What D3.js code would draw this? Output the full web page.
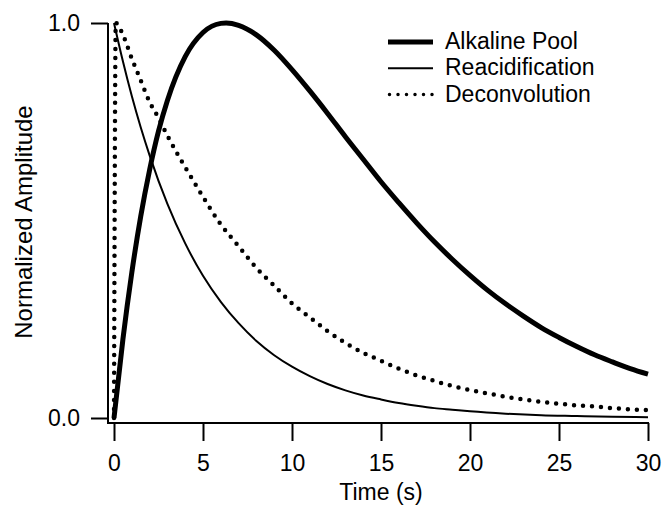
<!DOCTYPE html>
<html>
<head>
<meta charset="utf-8">
<script src="https://cdn.jsdelivr.net/npm/d3@7"></script>
<style>
  body { margin: 0; background: #fff; }
  svg text { font-family: Arial, "Liberation Sans", Helvetica, sans-serif; fill: #000; }
</style>
</head>
<body>
<svg id="chart" width="663" height="506"></svg>
<script>
// values
var alkTime = [0, 0.5, 1, 1.5, 2, 2.5, 3, 4, 5, 6, 6.3, 7, 8, 9, 10, 11, 12, 13, 14, 15, 16, 17, 18, 19, 20, 21, 22, 23, 24, 25, 26, 27, 28, 29, 30];
var alkaline = [0, 0.199, 0.368, 0.510, 0.628, 0.726, 0.804, 0.915, 0.976, 0.999, 1.0, 0.994, 0.970, 0.931, 0.882, 0.828, 0.771, 0.712, 0.655, 0.598, 0.545, 0.494, 0.446, 0.402, 0.361, 0.323, 0.289, 0.258, 0.229, 0.204, 0.181, 0.160, 0.142, 0.125, 0.111];

var reaTime = [0, 0.5, 1, 1.5, 2, 3, 4, 5, 6, 7, 8, 9, 10, 11, 12, 13, 14, 15, 16, 17, 18, 19, 20, 22, 24, 26, 28, 30];
var reacid = [1.0, 0.903, 0.815, 0.736, 0.665, 0.542, 0.442, 0.360, 0.294, 0.240, 0.195, 0.159, 0.130, 0.106, 0.086, 0.070, 0.057, 0.047, 0.038, 0.031, 0.025, 0.021, 0.017, 0.011, 0.007, 0.005, 0.003, 0.002];

var decTime = [0, 0.1, 0.5, 1, 1.5, 2, 2.5, 3, 4, 5, 6, 7, 8, 9, 10, 11, 12, 13, 14, 15, 16, 17, 18, 19, 20, 21, 22, 23, 24, 25, 26, 27, 28, 29, 30];
var deconv = [0, 1.0, 0.97, 0.91, 0.855, 0.80, 0.76, 0.715, 0.635, 0.56, 0.49, 0.435, 0.38, 0.335, 0.29, 0.255, 0.22, 0.19, 0.165, 0.145, 0.125, 0.108, 0.094, 0.081, 0.071, 0.062, 0.054, 0.047, 0.041, 0.036, 0.032, 0.029, 0.025, 0.022, 0.020];

var xTicks = [0, 5, 10, 15, 20, 25, 30];
var yTicks = [0, 1];
var seriesNames = ["Alkaline Pool", "Reacidification", "Deconvolution"];

var svg = d3.select("#chart");

// scales
var x = d3.scaleLinear().domain([0, 30]).range([114, 648]);
var y = d3.scaleLinear().domain([0, 1]).range([418, 23]);

var spineX = x(0) - 6,
    spineY = y(0) + 5;

// spines
svg.append("line")
    .attr("x1", spineX).attr("x2", spineX)
    .attr("y1", y(1)).attr("y2", spineY + 1)
    .attr("stroke", "#000").attr("stroke-width", 2);
svg.append("line")
    .attr("x1", spineX - 1).attr("x2", x(30) + 1)
    .attr("y1", spineY).attr("y2", spineY)
    .attr("stroke", "#000").attr("stroke-width", 2);

// x axis
var xAxis = svg.append("g")
    .attr("transform", "translate(0," + spineY + ")")
    .call(d3.axisBottom(x).tickValues(xTicks).tickSize(18).tickPadding(14).tickFormat(d3.format("d")));
xAxis.select(".domain").remove();
xAxis.selectAll("line").attr("stroke-width", 2);
xAxis.selectAll("text").attr("font-size", 23).attr("font-family", null);

// y axis
var yAxis = svg.append("g")
    .attr("transform", "translate(" + spineX + ",0)")
    .call(d3.axisLeft(y).tickValues(yTicks).tickSize(17).tickPadding(11).tickFormat(d3.format(".1f")));
yAxis.select(".domain").remove();
yAxis.selectAll("line").attr("stroke-width", 2);
yAxis.selectAll("text").attr("font-size", 23).attr("font-family", null);

// axis titles
svg.append("text")
    .attr("x", (x(0) + x(30)) / 2)
    .attr("y", 500)
    .attr("text-anchor", "middle")
    .attr("font-size", 23)
    .text("Time (s)");
svg.append("text")
    .attr("transform", "translate(31.5,222) rotate(-90)")
    .attr("text-anchor", "middle")
    .attr("font-size", 24)
    .text("Normalized Amplitude");

// curves
var line = d3.line()
    .x(function(d) { return x(d[0]); })
    .y(function(d) { return y(d[1]); })
    .curve(d3.curveMonotoneX);

svg.append("path")
    .datum(decTime.map(function(t, i) { return [t, deconv[i]]; }))
    .attr("fill", "none").attr("stroke", "#000")
    .attr("stroke-width", 4.5).attr("stroke-linecap", "round")
    .attr("stroke-dasharray", "0,9")
    .attr("d", line);

svg.append("path")
    .datum(reaTime.map(function(t, i) { return [t, reacid[i]]; }))
    .attr("fill", "none").attr("stroke", "#000")
    .attr("stroke-width", 2)
    .attr("d", line);

svg.append("path")
    .datum(alkTime.map(function(t, i) { return [t, alkaline[i]]; }))
    .attr("fill", "none").attr("stroke", "#000")
    .attr("stroke-width", 5).attr("stroke-linejoin", "round")
    .attr("d", line);

// legend
var legendStyles = [
    {w: 5, dash: null, cap: "butt"},
    {w: 2, dash: null, cap: "butt"},
    {w: 3.5, dash: "0,8.5", cap: "round"}
];
var legend = svg.append("g").attr("transform", "translate(388,42)");
seriesNames.forEach(function(name, i) {
    var row = legend.append("g").attr("transform", "translate(0," + (i * 26.3) + ")");
    row.append("line")
        .attr("x1", legendStyles[i].cap == "round" ? 1.5 : 0).attr("x2", 45)
        .attr("y1", 0).attr("y2", 0)
        .attr("stroke", "#000")
        .attr("stroke-width", legendStyles[i].w)
        .attr("stroke-linecap", legendStyles[i].cap)
        .attr("stroke-dasharray", legendStyles[i].dash);
    row.append("text")
        .attr("x", 57).attr("y", 7)
        .attr("font-size", 23)
        .text(name);
});
</script>
</body>
</html>
